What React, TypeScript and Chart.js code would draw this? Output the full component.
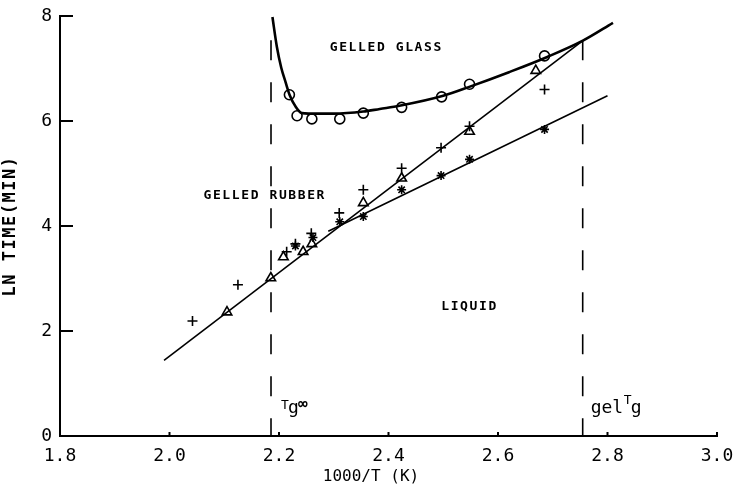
import React, { useEffect, useRef } from "react";
import { Chart, registerables } from "chart.js";

Chart.register(...registerables);

// Axis ticks
const xTicks = [1.8, 2.0, 2.2, 2.4, 2.6, 2.8, 3.0];
const yTicks = [0, 2, 4, 6, 8];

// Gelled-glass boundary: measured points (circles)
const glassX = [2.219, 2.233, 2.26, 2.311, 2.354, 2.424, 2.497, 2.548, 2.685];
const glassY = [6.5, 6.1, 6.04, 6.04, 6.15, 6.26, 6.46, 6.7, 7.24];

// Gelled-glass boundary: drawn curve
const glassCurveX = [2.188, 2.196, 2.204, 2.212, 2.22, 2.23, 2.242, 2.27, 2.3, 2.354, 2.384, 2.42, 2.5, 2.55, 2.62, 2.69, 2.755, 2.81];
const glassCurveY = [7.98, 7.42, 7.02, 6.74, 6.48, 6.28, 6.15, 6.14, 6.14, 6.18, 6.23, 6.29, 6.48, 6.66, 6.93, 7.22, 7.53, 7.87];

// Triangles and their fitted line
const triX = [2.105, 2.185, 2.208, 2.244, 2.26, 2.354, 2.424, 2.548, 2.669];
const triY = [2.36, 3.01, 3.41, 3.51, 3.66, 4.44, 4.91, 5.8, 6.96];
const triLineX = [1.99, 2.755];
const triLineY = [1.44, 7.53];

// Plus markers
const plusX = [2.042, 2.125, 2.214, 2.23, 2.259, 2.31, 2.354, 2.424, 2.496, 2.548, 2.685];
const plusY = [2.19, 2.88, 3.51, 3.66, 3.86, 4.25, 4.69, 5.1, 5.49, 5.9, 6.6];

// Star markers and their fitted line
const starX = [2.23, 2.262, 2.311, 2.354, 2.424, 2.496, 2.548, 2.685];
const starY = [3.62, 3.78, 4.08, 4.18, 4.69, 4.96, 5.27, 5.84];
const starLineX = [2.29, 2.8];
const starLineY = [3.9, 6.48];

// Vertical reference temperatures
const tgInfX = 2.1854;
const gelTgX = 2.7547;
const refTop = 7.54;

// Region labels: [text, x, y]
const regionLabels: [string, number, number][] = [
  ["GELLED GLASS", 2.396, 7.39],
  ["GELLED RUBBER", 2.174, 4.58],
  ["LIQUID", 2.548, 2.46],
];

const xTitle = "1000/T (K)";
const yTitle = "LN TIME(MIN)";

const pts = (xs: number[], ys: number[]) => xs.map((x, i) => ({ x, y: ys[i] }));

const MONO = "'DejaVu Sans Mono', monospace";

const decorations = {
  id: "decorations",
  afterDatasetsDraw(chart: any) {
    const { ctx, chartArea } = chart;
    const xs = chart.scales.x;
    const ys = chart.scales.y;
    ctx.save();
    ctx.strokeStyle = "#000";
    ctx.fillStyle = "#000";
    ctx.lineWidth = 2;
    // inward tick marks
    ctx.beginPath();
    yTicks.forEach((v) => {
      if (v === 0) return;
      const py = ys.getPixelForValue(v);
      ctx.moveTo(chartArea.left, py);
      ctx.lineTo(chartArea.left + 13, py);
    });
    xTicks.forEach((v) => {
      const px = xs.getPixelForValue(v);
      ctx.moveTo(px, chartArea.bottom);
      ctx.lineTo(px, chartArea.bottom - 4);
    });
    ctx.stroke();

    // region labels
    ctx.font = `bold 13px ${MONO}`;
    (ctx as any).letterSpacing = "1.6px";
    ctx.textAlign = "center";
    ctx.textBaseline = "middle";
    regionLabels.forEach(([t, x, y]) => {
      ctx.fillText(t, xs.getPixelForValue(x), ys.getPixelForValue(y));
    });

    // y-axis title, rotated
    ctx.save();
    ctx.translate(11, (chartArea.top + chartArea.bottom) / 2);
    ctx.rotate(-Math.PI / 2);
    ctx.font = `bold 17px ${MONO}`;
    (ctx as any).letterSpacing = "1.5px";
    ctx.fillText(yTitle, 0, 0);
    ctx.restore();
    (ctx as any).letterSpacing = "0px";

    // x-axis title
    ctx.font = `16px ${MONO}`;
    ctx.fillText(xTitle, 371, 477);

    // T_g-infinity label
    ctx.textAlign = "left";
    ctx.textBaseline = "alphabetic";
    const a = xs.getPixelForValue(tgInfX);
    ctx.font = `13px ${MONO}`;
    ctx.fillText("T", a + 10, 409);
    ctx.font = `18px ${MONO}`;
    ctx.fillText("g", a + 17, 413);
    ctx.font = `bold 16px ${MONO}`;
    ctx.fillText("\u221E", a + 27, 409);

    // gel T_g label
    const b = xs.getPixelForValue(gelTgX);
    ctx.font = `18px ${MONO}`;
    ctx.fillText("gel", b + 8, 413);
    ctx.font = `13px ${MONO}`;
    ctx.fillText("T", b + 41, 404);
    ctx.font = `18px ${MONO}`;
    ctx.fillText("g", b + 48, 413);
    ctx.restore();
  },
};

export default function App() {
  const ref = useRef<HTMLCanvasElement | null>(null);

  useEffect(() => {
    if (!ref.current) return;
    const lineDs = (data: any[], width: number, extra: any = {}) => ({
      data,
      showLine: true,
      borderColor: "#000",
      borderWidth: width,
      pointRadius: 0,
      fill: false,
      ...extra,
    });
    const markerDs = (data: any[], style: string, radius: number) => ({
      data,
      showLine: false,
      pointStyle: style,
      pointRadius: radius,
      pointBorderColor: "#000",
      pointBackgroundColor: "rgba(0,0,0,0)",
      pointBorderWidth: 1.6,
    });

    const chart = new Chart(ref.current, {
      type: "scatter",
      data: {
        datasets: [
          markerDs(pts(glassX, glassY), "circle", 5),
          markerDs(pts(triX, triY), "triangle", 5.5),
          markerDs(pts(plusX, plusY), "cross", 5),
          markerDs(pts(starX, starY), "star", 4.5),
          lineDs(pts(glassCurveX, glassCurveY), 2.6, { cubicInterpolationMode: "monotone" }),
          lineDs(pts(triLineX, triLineY), 1.6),
          lineDs(pts(starLineX, starLineY), 1.6),
          lineDs([{ x: tgInfX, y: refTop }, { x: tgInfX, y: 0 }], 1.6, { borderDash: [20, 22] }),
          lineDs([{ x: gelTgX, y: refTop }, { x: gelTgX, y: 0 }], 1.6, { borderDash: [20, 22] }),
        ] as any,
      },
      options: {
        responsive: false,
        animation: false,
        layout: { padding: { top: 16, right: 18, left: 0, bottom: 0 } },
        plugins: { legend: { display: false }, tooltip: { enabled: false } },
        scales: {
          x: {
            type: "linear",
            min: 1.8,
            max: 3.0,
            afterBuildTicks: (s: any) => {
              s.ticks = xTicks.map((value) => ({ value }));
            },
            afterFit: (s: any) => {
              s.height = 51;
              s.paddingLeft = 0;
              s.paddingRight = 0;
            },
            ticks: {
              callback: (v: any) => Number(v).toFixed(1),
              color: "#000",
              font: { family: MONO, size: 18 },
              padding: 10,
              maxRotation: 0,
              autoSkip: false,
            },
            grid: { display: false, drawTicks: false },
            border: { display: true, color: "#000", width: 2 },
          },
          y: {
            type: "linear",
            min: 0,
            max: 8,
            afterBuildTicks: (s: any) => {
              s.ticks = yTicks.map((value) => ({ value }));
            },
            afterFit: (s: any) => {
              s.width = 60;
              s.paddingTop = 0;
              s.paddingBottom = 0;
            },
            ticks: {
              color: "#000",
              font: { family: MONO, size: 18 },
              padding: 8,
            },
            grid: { display: false, drawTicks: false },
            border: { display: true, color: "#000", width: 2 },
          },
        },
      } as any,
      plugins: [decorations],
    });
    return () => chart.destroy();
  }, []);

  return (
    <div style={{ position: "absolute", left: 0, top: 0, width: 735, height: 487, background: "#fff" }}>
      <canvas ref={ref} width={735} height={487} style={{ display: "block" }} />
    </div>
  );
}
